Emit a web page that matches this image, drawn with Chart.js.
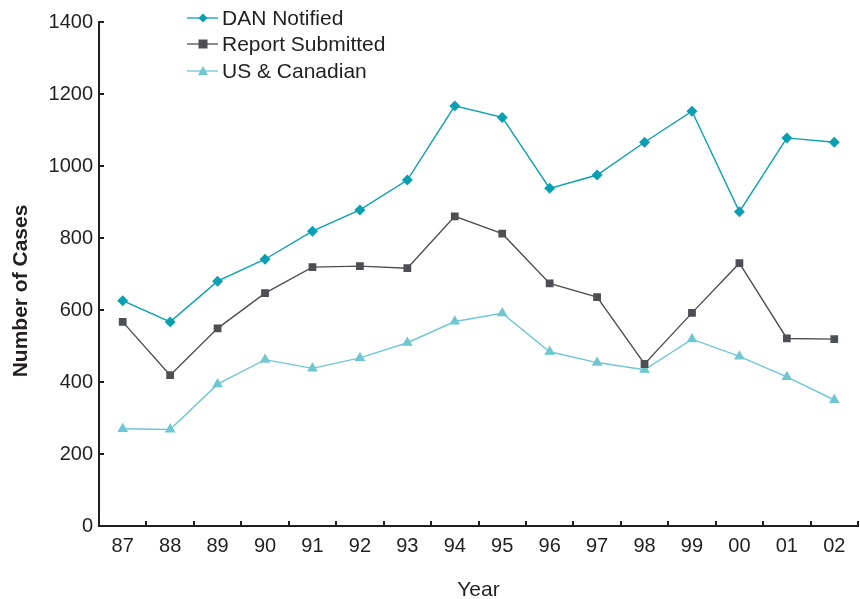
<!DOCTYPE html>
<html>
<head>
<meta charset="utf-8">
<script src="https://cdn.jsdelivr.net/npm/chart.js@4/dist/chart.umd.min.js"></script>
<style>
html,body{margin:0;padding:0;background:#fff;}
#wrap{width:860px;height:599px;position:relative;}
</style>
</head>
<body>
<div id="wrap"><canvas id="c" width="860" height="599"></canvas></div>
<script>
const years = ['87','88','89','90','91','92','93','94','95','96','97','98','99','00','01','02'];
const danNotified = [626, 567, 680, 741, 819, 878, 961, 1167, 1135, 938, 975, 1066, 1152, 873, 1078, 1066];
const reportSubmitted = [567, 419, 549, 647, 719, 722, 716, 860, 812, 674, 636, 450, 592, 730, 521, 519];
const usCanadian = [270, 268, 394, 462, 438, 467, 509, 568, 591, 484, 454, 434, 519, 471, 414, 350];
const yTicks = [0, 200, 400, 600, 800, 1000, 1200, 1400];

const seriesNames = ['DAN Notified', 'Report Submitted', 'US & Canadian'];
const TXT = '#231f20';
const FONT = 'Liberation Sans, Arial, Helvetica, sans-serif';

const overlay = {
  id: 'overlay',
  afterDraw(chart) {
    const ctx = chart.ctx;
    const xs = chart.scales.x, ys = chart.scales.y;
    const area = chart.chartArea;
    ctx.save();
    ctx.strokeStyle = TXT;
    ctx.lineWidth = 2;
    yTicks.forEach(v => {
      const y = Math.round(ys.getPixelForValue(v));
      ctx.beginPath();
      ctx.moveTo(area.left, y);
      ctx.lineTo(area.left + 5, y);
      ctx.stroke();
    });
    for (let i = 0; i <= years.length; i++) {
      const x = Math.round(xs.getPixelForValue(i - 0.5));
      ctx.beginPath();
      ctx.moveTo(x, area.bottom);
      ctx.lineTo(x, area.bottom - 5);
      ctx.stroke();
    }
    ctx.fillStyle = TXT;
    ctx.font = 'bold 21px ' + FONT;
    ctx.textAlign = 'center';
    ctx.textBaseline = 'middle';
    ctx.translate(21, 291);
    ctx.rotate(-Math.PI / 2);
    ctx.fillText('Number of Cases', 0, 0);
    ctx.restore();

    ctx.save();
    const rows = [18, 44, 71];
    chart.data.datasets.forEach((ds, i) => {
      const y = rows[i];
      ctx.strokeStyle = ds.borderColor;
      ctx.lineWidth = 1.3;
      ctx.beginPath();
      ctx.moveTo(187, y);
      ctx.lineTo(218, y);
      ctx.stroke();
      ctx.fillStyle = ds.pointBackgroundColor;
      const cx = 203;
      ctx.beginPath();
      if (ds.pointStyle === 'rectRot') {
        const r = 4.5;
        ctx.moveTo(cx, y - r); ctx.lineTo(cx + r, y); ctx.lineTo(cx, y + r); ctx.lineTo(cx - r, y); ctx.closePath();
      } else if (ds.pointStyle === 'rect') {
        ctx.rect(cx - 4.5, y - 4.5, 9, 9);
      } else {
        ctx.moveTo(cx, y - 5); ctx.lineTo(cx + 5, y + 4); ctx.lineTo(cx - 5, y + 4); ctx.closePath();
      }
      ctx.fill();
      ctx.fillStyle = TXT;
      ctx.font = '21px ' + FONT;
      ctx.textAlign = 'left';
      ctx.textBaseline = 'middle';
      ctx.fillText(seriesNames[i], 222, y + 1);
    });
    ctx.restore();
  }
};

new Chart(document.getElementById('c'), {
  type: 'line',
  data: {
    labels: years,
    datasets: [
      { label: seriesNames[0], data: danNotified, borderColor: '#0aa0b2', backgroundColor: '#0aa0b2',
        pointBackgroundColor: '#0aa0b2', pointBorderColor: '#0aa0b2', pointStyle: 'rectRot', pointRadius: 4.5, borderWidth: 1.4, tension: 0 },
      { label: seriesNames[1], data: reportSubmitted, borderColor: '#4e4f53', backgroundColor: '#4e4f53',
        pointBackgroundColor: '#4e4f53', pointBorderColor: '#4e4f53', pointStyle: 'rect', pointRadius: 4.5, borderWidth: 1.4, tension: 0 },
      { label: seriesNames[2], data: usCanadian, borderColor: '#6fc7d1', backgroundColor: '#6fc7d1',
        pointBackgroundColor: '#6fc7d1', pointBorderColor: '#6fc7d1', pointStyle: 'triangle', pointRadius: 4.8, borderWidth: 1.4, tension: 0 }
    ]
  },
  options: {
    responsive: false,
    animation: false,
    devicePixelRatio: 1,
    layout: { autoPadding: false, padding: { left: 0, right: 2, top: 22, bottom: 0 } },
    plugins: { legend: { display: false }, tooltip: { enabled: false } },
    scales: {
      x: {
        type: 'category',
        offset: true,
        grid: { display: false, drawTicks: false },
        border: { display: true, color: TXT, width: 2 },
        ticks: { color: TXT, font: { family: FONT, size: 20 }, padding: 8, autoSkip: false, maxRotation: 0 },
        title: { display: true, text: 'Year', color: TXT, font: { family: FONT, size: 21, lineHeight: 0.85 }, padding: { top: 0, bottom: 0 } },
        afterFit(s) { s.height = 73; }
      },
      y: {
        min: 0, max: 1400,
        grid: { display: false, drawTicks: false },
        border: { display: true, color: TXT, width: 2 },
        afterBuildTicks(s) { s.ticks = yTicks.map(v => ({ value: v })); },
        ticks: { color: TXT, font: { family: FONT, size: 20 }, padding: 6, callback: v => String(v) },
        afterFit(s) { s.width = 99; }
      }
    }
  },
  plugins: [overlay]
});
</script>
</body>
</html>
